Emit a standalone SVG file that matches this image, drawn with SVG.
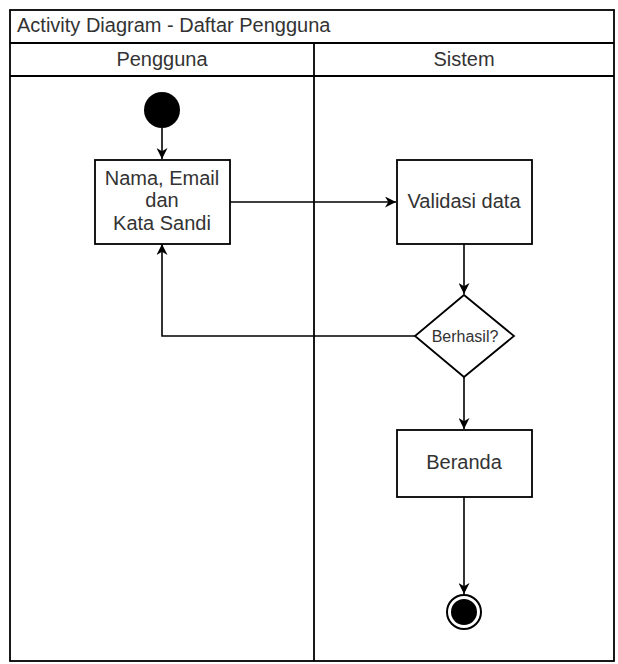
<svg xmlns="http://www.w3.org/2000/svg" width="618" height="664" viewBox="0 0 618 664">
  <style>
    .frame { fill: none; stroke: #000; stroke-width: 1.8; }
    .node { fill: #fff; stroke: #000; stroke-width: 1.8; }
    .edge { fill: none; stroke: #000; stroke-width: 1.6; }
    .txt { font-family: "Liberation Sans", Arial, sans-serif; font-size: 20px; fill: #333; }
    .mid { text-anchor: middle; }
  </style>
  <defs>
    <marker id="arrow" viewBox="0 0 10 10" refX="10" refY="5" markerWidth="11" markerHeight="11" markerUnits="userSpaceOnUse" orient="auto">
      <path d="M0,0 L10,5 L0,10 L3,5 Z" fill="#000"/>
    </marker>
  </defs>
  <rect width="618" height="664" fill="#fff"/>

  <!-- swimlane pool with title and two lanes -->
  <g id="pool">
    <rect class="frame" x="10" y="10" width="604" height="651"/>
    <line class="frame" x1="10" y1="43" x2="614" y2="43"/>
    <line class="frame" x1="10" y1="76" x2="614" y2="76"/>
    <line class="frame" x1="314" y1="43" x2="314" y2="661"/>
    <text class="txt" x="17" y="32">Activity Diagram - Daftar Pengguna</text>
    <text class="txt mid" x="162" y="66">Pengguna</text>
    <text class="txt mid" x="464" y="66">Sistem</text>
  </g>

  <!-- connectors -->
  <g id="connectors">
    <line class="edge" x1="162" y1="128" x2="162" y2="159" marker-end="url(#arrow)"/>
    <line class="edge" x1="230" y1="202" x2="396" y2="202" marker-end="url(#arrow)"/>
    <line class="edge" x1="464" y1="244" x2="464" y2="294" marker-end="url(#arrow)"/>
    <polyline class="edge" points="415,336 162,336 162,244" marker-end="url(#arrow)"/>
    <line class="edge" x1="464" y1="377" x2="464" y2="429" marker-end="url(#arrow)"/>
    <line class="edge" x1="464" y1="497" x2="464" y2="594" marker-end="url(#arrow)"/>
  </g>

  <g id="start">
    <circle cx="162" cy="110" r="18" fill="#000"/>
  </g>

  <g id="input-data">
    <rect class="node" x="95" y="160" width="135" height="84"/>
    <text class="txt mid" x="162" y="185">Nama, Email</text>
    <text class="txt mid" x="162" y="207">dan</text>
    <text class="txt mid" x="162" y="230">Kata Sandi</text>
  </g>

  <g id="validasi">
    <rect class="node" x="397" y="160" width="135" height="84"/>
    <text class="txt mid" x="464" y="208">Validasi data</text>
  </g>

  <g id="berhasil">
    <polygon class="node" points="464,295 514,336 464,377 415,336"/>
    <text class="txt mid" x="465" y="342" style="font-size:16px">Berhasil?</text>
  </g>

  <g id="beranda">
    <rect class="node" x="397" y="430" width="135" height="67"/>
    <text class="txt mid" x="464" y="469">Beranda</text>
  </g>

  <g id="end">
    <circle cx="464" cy="612" r="17" fill="#fff" stroke="#000" stroke-width="2"/>
    <circle cx="464" cy="612" r="13" fill="#000"/>
  </g>
</svg>
